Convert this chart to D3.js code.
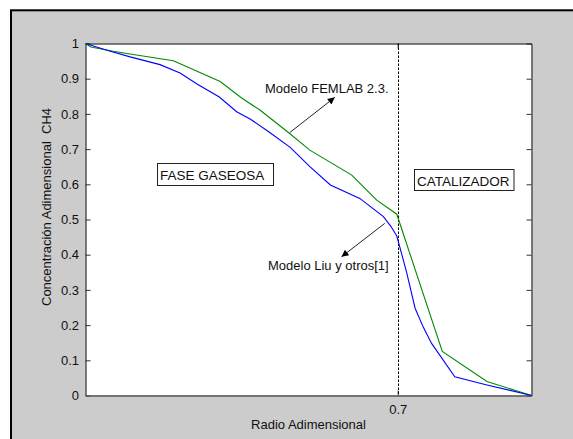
<!DOCTYPE html>
<html>
<head>
<meta charset="utf-8">
<script src="https://cdn.jsdelivr.net/npm/d3@7"></script>
<style>
  html, body { margin: 0; padding: 0; background: #ffffff; }
  svg { display: block; }
  text { font-family: "Liberation Sans", Arial, sans-serif; fill: #111; }
</style>
</head>
<body>
<svg id="chart" width="573" height="439"></svg>
<script>
// Radial profiles of dimensionless CH4 concentration
const radioLiu = [0, 0.05, 0.10, 0.167, 0.212, 0.25, 0.30, 0.339, 0.37, 0.41, 0.459, 0.503, 0.549, 0.615, 0.668, 0.685, 0.698, 0.72, 0.739, 0.757, 0.776, 0.828, 0.90, 1.0];
const concLiu  = [1.0, 0.98, 0.962, 0.94, 0.916, 0.885, 0.848, 0.806, 0.785, 0.75, 0.705, 0.65, 0.598, 0.56, 0.508, 0.48, 0.453, 0.35, 0.248, 0.195, 0.148, 0.053, 0.03, 0.0];

const radioFemlab = [0, 0.012, 0.062, 0.10, 0.197, 0.302, 0.35, 0.391, 0.455, 0.503, 0.597, 0.653, 0.698, 0.80, 0.90, 1.0];
const concFemlab  = [1.0, 0.99, 0.978, 0.97, 0.951, 0.892, 0.845, 0.811, 0.747, 0.697, 0.626, 0.555, 0.515, 0.125, 0.04, 0.0];

const yTicks = [0, 0.1, 0.2, 0.3, 0.4, 0.5, 0.6, 0.7, 0.8, 0.9, 1];
const xTicks = [0.7];
const interfaz = 0.7;

const svg = d3.select("#chart");
const W = 573, H = 439;
const plot = { left: 85.5, right: 531.5, top: 43.5, bottom: 395.5 };

// figure background with frame
svg.append("rect").attr("x", 0).attr("y", 0).attr("width", W).attr("height", H).attr("fill", "#ffffff");
svg.append("rect").attr("x", 11).attr("y", 10.3).attr("width", 700).attr("height", 600)
  .attr("fill", "#cccccc").attr("stroke", "#000").attr("stroke-width", 2);

const x = d3.scaleLinear().domain([0, 1]).range([plot.left, plot.right]);
const y = d3.scaleLinear().domain([0, 1]).range([plot.bottom, plot.top]);

// axes area
svg.append("rect").attr("x", plot.left).attr("y", plot.top)
  .attr("width", plot.right - plot.left).attr("height", plot.bottom - plot.top)
  .attr("fill", "#ffffff");

// left axis: inward ticks, labels outside
const yAxisL = d3.axisLeft(y).tickValues(yTicks).tickSizeInner(-5).tickSizeOuter(0)
  .tickPadding(6).tickFormat(d => d3.format("")(+d.toFixed(1)));
const gL = svg.append("g").attr("transform", `translate(${plot.left},0)`).call(yAxisL);
gL.select(".domain").attr("stroke", "#000");
gL.selectAll(".tick line").attr("stroke", "#333");
gL.selectAll("text").style("font-size", "13px").attr("fill", "#222").attr("dx", "-0.5");

const yAxisR = d3.axisRight(y).tickValues(yTicks).tickSizeInner(-5).tickSizeOuter(0).tickFormat("");
const gR = svg.append("g").attr("transform", `translate(${plot.right},0)`).call(yAxisR);
gR.select(".domain").attr("stroke", "#555").attr("stroke-width", 1.5);
gR.selectAll(".tick line").attr("stroke", "#333");

const xAxisB = d3.axisBottom(x).tickValues(xTicks).tickSizeInner(-5).tickSizeOuter(0)
  .tickPadding(9).tickFormat(d3.format(".1f"));
const gB = svg.append("g").attr("transform", `translate(0,${plot.bottom})`).call(xAxisB);
gB.select(".domain").attr("stroke", "#555").attr("stroke-width", 1.5);
gB.selectAll(".tick line").attr("stroke", "#333");
gB.selectAll("text").style("font-size", "13px").attr("fill", "#222");

const xAxisT = d3.axisTop(x).tickValues(xTicks).tickSizeInner(-5).tickSizeOuter(0).tickFormat("");
const gT = svg.append("g").attr("transform", `translate(0,${plot.top})`).call(xAxisT);
gT.select(".domain").attr("stroke", "#000");

// interface between gas phase and catalyst
svg.append("line")
  .attr("x1", Math.round(x(interfaz)) + 0.5).attr("x2", Math.round(x(interfaz)) + 0.5)
  .attr("y1", plot.top).attr("y2", plot.bottom)
  .attr("stroke", "#000").attr("stroke-width", 1).attr("stroke-dasharray", "2.5,1.5");

// profiles
const line = d3.line().x(d => x(d[0])).y(d => y(d[1]));
svg.append("path").datum(d3.zip(radioFemlab, concFemlab))
  .attr("d", line).attr("fill", "none").attr("stroke", "#008a00").attr("stroke-width", 1.1);
svg.append("path").datum(d3.zip(radioLiu, concLiu))
  .attr("d", line).attr("fill", "none").attr("stroke", "#0000ff").attr("stroke-width", 1.1);

// arrows
const defs = svg.append("defs");
defs.append("marker").attr("id", "flecha").attr("viewBox", "0 0 10 10")
  .attr("refX", 10).attr("refY", 5).attr("markerWidth", 9).attr("markerHeight", 7)
  .attr("markerUnits", "userSpaceOnUse").attr("orient", "auto")
  .append("path").attr("d", "M0,0 L10,5 L0,10 Z").attr("fill", "#000");

function flecha(x0, y0, x1, y1) {
  svg.append("line").attr("x1", x0).attr("y1", y0).attr("x2", x1).attr("y2", y1)
    .attr("stroke", "#222").attr("stroke-width", 1).attr("marker-end", "url(#flecha)");
}
flecha(x(0.458), y(0.747), x(0.559), y(0.847));
flecha(x(0.671), y(0.489), x(0.574), y(0.394));

svg.append("text").attr("x", 265).attr("y", 93).style("font-size", "13px").text("Modelo FEMLAB 2.3.");
svg.append("text").attr("x", 268).attr("y", 269.5).style("font-size", "13px").text("Modelo Liu y otros[1]");

// region labels
function etiqueta(bx, by, bw, bh, txt) {
  svg.append("rect").attr("x", bx).attr("y", by).attr("width", bw).attr("height", bh)
    .attr("fill", "#fff").attr("stroke", "#222").attr("stroke-width", 1);
  svg.append("text").attr("x", bx + 2.5).attr("y", by + 16).style("font-size", "13.5px").text(txt);
}
etiqueta(157.5, 163.5, 116, 22, "FASE GASEOSA");
etiqueta(414.5, 169.5, 99.5, 21, "CATALIZADOR");

// axis titles
svg.append("text").attr("x", (plot.left + plot.right) / 2).attr("y", 429)
  .attr("text-anchor", "middle").style("font-size", "13px").text("Radio Adimensional");
svg.append("text").attr("transform", `translate(51,207) rotate(-90)`)
  .attr("text-anchor", "middle").style("font-size", "13px").style("white-space", "pre")
  .text("Concentración Adimensional  CH4");
</script>
</body>
</html>
